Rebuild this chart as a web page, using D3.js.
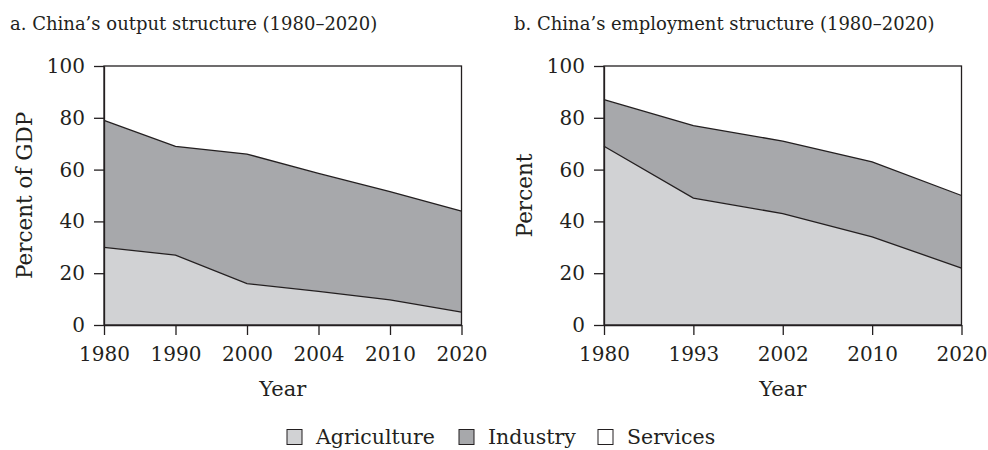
<!DOCTYPE html>
<html lang='en'>
  <head>
    <meta charset='utf-8'>
    <style type='text/css'>
      body {margin: 0; background-color: #fff;}
      svg text {font-family: 'DejaVu Serif', serif; fill: #231f20;}
    </style>
  </head>
  <body>
    <svg id='chart' width='988' height='450'></svg>
    <script src='https://d3js.org/d3.v7.min.js'></script>
    <script type='text/javascript'>
        // panel a: output structure (percent of GDP)
        var outputYears = ["1980", "1990", "2000", "2004", "2010", "2020"];
        var outputAgriculture = [30, 27, 16, 13, 9.7, 5];
        var outputIndustry = [49, 42, 50, 45.5, 41.8, 39];
        var outputServices = [21, 31, 34, 41.5, 48.5, 56];

        // panel b: employment structure (percent)
        var employYears = ["1980", "1993", "2002", "2010", "2020"];
        var employAgriculture = [69, 49, 43, 34, 22];
        var employIndustry = [18, 28, 28, 29, 28];
        var employServices = [13, 23, 29, 37, 50];

        var yTicks = [0, 20, 40, 60, 80, 100];
        var sectors = ["Agriculture", "Industry", "Services"];
        var colors = ["#d1d2d4", "#a7a8ab", "#ffffff"];
        var ink = "#231f20";

        var svg = d3.select("#chart");

        function drawPanel(p) {
          var g = svg.append("g");

          var x = d3.scalePoint().domain(p.years).range([p.left, p.right]);
          var y = d3.scaleLinear().domain([0, 100]).range([325, 66]);

          // stack the three sectors
          var rows = p.years.map(function(yr, i) {
            return {year: yr, Agriculture: p.agr[i], Industry: p.ind[i], Services: p.ser[i]};
          });
          var stacked = d3.stack().keys(sectors)(rows);

          var area = d3.area()
            .x(function(d) { return x(d.data.year); })
            .y0(function(d) { return y(d[0]); })
            .y1(function(d) { return y(d[1]); });
          var line = d3.line()
            .x(function(d) { return x(d.data.year); })
            .y(function(d) { return y(d[1]); });

          g.selectAll("path.area")
            .data(stacked)
            .enter().append("path")
            .attr("class", "area")
            .attr("fill", function(d, i) { return colors[i]; })
            .attr("d", area);

          // boundaries between sectors
          g.selectAll("path.edge")
            .data(stacked.slice(0, 2))
            .enter().append("path")
            .attr("class", "edge")
            .attr("fill", "none")
            .attr("stroke", ink)
            .attr("stroke-width", 1.3)
            .attr("d", line);

          // frame
          g.append("rect")
            .attr("x", p.left).attr("y", y(100))
            .attr("width", p.right - p.left).attr("height", y(0) - y(100))
            .attr("fill", "none").attr("stroke", ink).attr("stroke-width", 1.3);

          var xAxis = g.append("g")
            .attr("transform", "translate(0," + y(0) + ")")
            .call(d3.axisBottom(x).tickSize(10).tickSizeOuter(0).tickPadding(12));
          var yAxis = g.append("g")
            .attr("transform", "translate(" + p.left + ",0)")
            .call(d3.axisLeft(y).tickValues(yTicks).tickSize(10).tickSizeOuter(0).tickPadding(9));

          [xAxis, yAxis].forEach(function(ax) {
            ax.select(".domain").attr("stroke", ink).attr("stroke-width", 1.3);
            ax.selectAll(".tick line").attr("stroke", ink).attr("stroke-width", 1.3);
            ax.selectAll(".tick text")
              .attr("fill", ink)
              .style("font-family", "'DejaVu Serif', serif")
              .style("font-size", "20px");
          });

          g.append("text")
            .attr("x", (p.left + p.right) / 2)
            .attr("y", 396)
            .attr("text-anchor", "middle")
            .style("font-size", "21px")
            .text("Year");

          g.append("text")
            .attr("transform", "translate(" + p.ylabelX + "," + y(50) + ") rotate(-90)")
            .attr("text-anchor", "middle")
            .style("font-size", "21.5px")
            .text(p.ylabel);

          g.append("text")
            .attr("x", p.titleX)
            .attr("y", 30)
            .style("font-size", "18px")
            .text(p.title);
        }

        drawPanel({
          years: outputYears, agr: outputAgriculture, ind: outputIndustry, ser: outputServices,
          left: 104, right: 461.5, ylabel: "Percent of GDP", ylabelX: 32, titleX: 10,
          title: "a. China\u2019s output structure (1980\u20132020)"
        });
        drawPanel({
          years: employYears, agr: employAgriculture, ind: employIndustry, ser: employServices,
          left: 604, right: 961.5, ylabel: "Percent", ylabelX: 532, titleX: 514,
          title: "b. China\u2019s employment structure (1980\u20132020)"
        });

        // legend
        var legendX = [287, 459, 598];
        var legend = svg.append("g").selectAll("g")
          .data(sectors)
          .enter().append("g")
          .attr("transform", function(d, i) { return "translate(" + legendX[i] + ",429.5)"; });
        legend.append("rect")
          .attr("width", 15).attr("height", 15)
          .attr("fill", function(d, i) { return colors[i]; })
          .attr("stroke", ink).attr("stroke-width", 1);
        legend.append("text")
          .attr("x", 29).attr("y", 14.5)
          .style("font-size", "20.5px")
          .text(function(d) { return d; });
    </script>
  </body>
</html>
